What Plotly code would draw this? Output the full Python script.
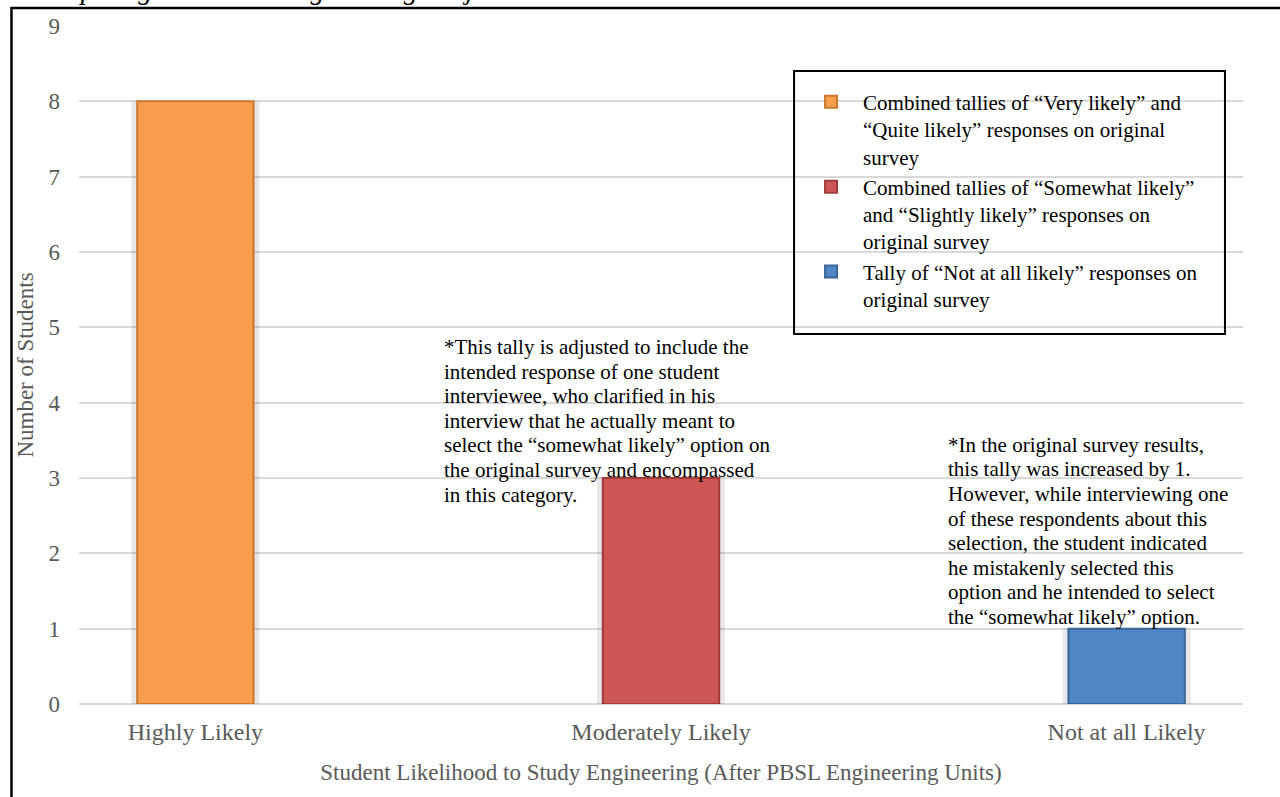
import plotly.graph_objects as go

# Survey tallies after the PBSL engineering units
categories = ["Highly Likely", "Moderately Likely", "Not at all Likely"]
counts = [8, 3, 1]
series_names = [
    "Combined tallies of \u201cVery likely\u201d and<br>\u201cQuite likely\u201d responses on original<br>survey",
    "Combined tallies of \u201cSomewhat likely\u201d<br>and \u201cSlightly likely\u201d responses on<br>original survey",
    "Tally of \u201cNot at all likely\u201d responses on<br>original survey",
]
face_colors = ["#F99E4C", "#CD5754", "#4F86C6"]
edge_colors = ["#C9782F", "#9E3B38", "#3A6596"]
y_ticks = list(range(0, 10))

note_moderate = [
    "*This tally is adjusted to include the",
    "intended response of one student",
    "interviewee, who clarified in his",
    "interview that he actually meant to",
    "select the \u201csomewhat likely\u201d option on",
    "the original survey and encompassed",
    "in this category.",
]
note_not_at_all = [
    "*In the original survey results,",
    "this tally was increased by 1.",
    "However, while interviewing one",
    "of these respondents about this",
    "selection, the student indicated",
    "he mistakenly selected this",
    "option and he intended to select",
    "the \u201csomewhat likely\u201d option.",
]

SERIF = "Liberation Serif, Times New Roman, serif"
BAR_W = 0.25

fig = go.Figure()

# soft drop shadow behind each column
for cat, val in zip(categories, counts):
    fig.add_trace(go.Bar(
        x=[cat], y=[val], width=BAR_W + 0.025,
        marker=dict(color="rgba(0,0,0,0.09)", line=dict(width=0)),
        showlegend=False, hoverinfo="skip",
    ))

for cat, val, name, fc, ec in zip(categories, counts, series_names, face_colors, edge_colors):
    fig.add_trace(go.Bar(
        x=[cat], y=[val], name=name, width=BAR_W,
        marker=dict(color=fc, line=dict(color=ec, width=2)),
        legendgroup=name,
    ))

fig.update_layout(
    width=1280, height=797,
    margin=dict(l=79, r=37, t=26, b=93),
    paper_bgcolor="white", plot_bgcolor="white",
    barmode="overlay",
    font=dict(family=SERIF, color="#595959"),
    legend=dict(
        x=0.6186, y=0.918, xanchor="left", yanchor="top",
        bgcolor="rgba(0,0,0,0)", borderwidth=0,
        font=dict(family=SERIF, size=21, color="black"),
        valign="top", traceorder="grouped", tracegroupgap=0,
        itemwidth=54,
    ),
    xaxis=dict(
        range=[-0.25, 2.25], showgrid=False, showline=False, zeroline=False,
        tickfont=dict(size=24, color="#595959"), ticks="",
        ticklabelstandoff=11,
        title=dict(text="Student Likelihood to Study Engineering (After PBSL Engineering Units)",
                   font=dict(size=23, color="#595959"), standoff=19),
    ),
    yaxis=dict(
        range=[0, 9], tickvals=y_ticks, showgrid=True, gridcolor="#D9D9D9", gridwidth=2,
        zeroline=True, zerolinecolor="#D9D9D9", zerolinewidth=2, showline=False,
        tickfont=dict(size=23, color="#595959"), ticks="",
        ticklabelstandoff=18,
        title=dict(text="Number of Students", font=dict(size=23, color="#595959"), standoff=8),
    ),
)

# legend frame
fig.add_shape(type="rect", xref="paper", yref="paper",
              x0=0.6143, x1=0.9845, y0=0.5457, y1=0.9336,
              line=dict(color="black", width=2), fillcolor="rgba(0,0,0,0)", layer="above")

# outer chart frame
fig.add_shape(type="rect", xref="paper", yref="paper",
              x0=-0.0580, x1=1.2, y0=-0.3, y1=1.0265,
              line=dict(color="black", width=2.5), fillcolor="rgba(0,0,0,0)", layer="above")

# caption line above the frame
fig.add_annotation(text="<i>Participating in a PBSL Engineering Project</i>",
                   xref="paper", yref="paper", x=-0.0675, y=1.054,
                   xanchor="left", yanchor="middle", showarrow=False,
                   font=dict(family=SERIF, size=28, color="black"))

LINE_STEP = 24.6
for i, line in enumerate(note_moderate):
    fig.add_annotation(text=line, xref="paper", yref="paper", x=0.312, y=0.5265,
                       xanchor="left", yanchor="middle", yshift=-i * LINE_STEP,
                       showarrow=False, font=dict(family=SERIF, size=21, color="black"))

n2 = len(note_not_at_all)
for i, line in enumerate(note_not_at_all):
    fig.add_annotation(text=line, xref="paper", yref="paper", x=0.745, y=0.1283,
                       xanchor="left", yanchor="middle", yshift=(n2 - 1 - i) * LINE_STEP,
                       showarrow=False, font=dict(family=SERIF, size=21, color="black"))

fig.write_html("out.html")
